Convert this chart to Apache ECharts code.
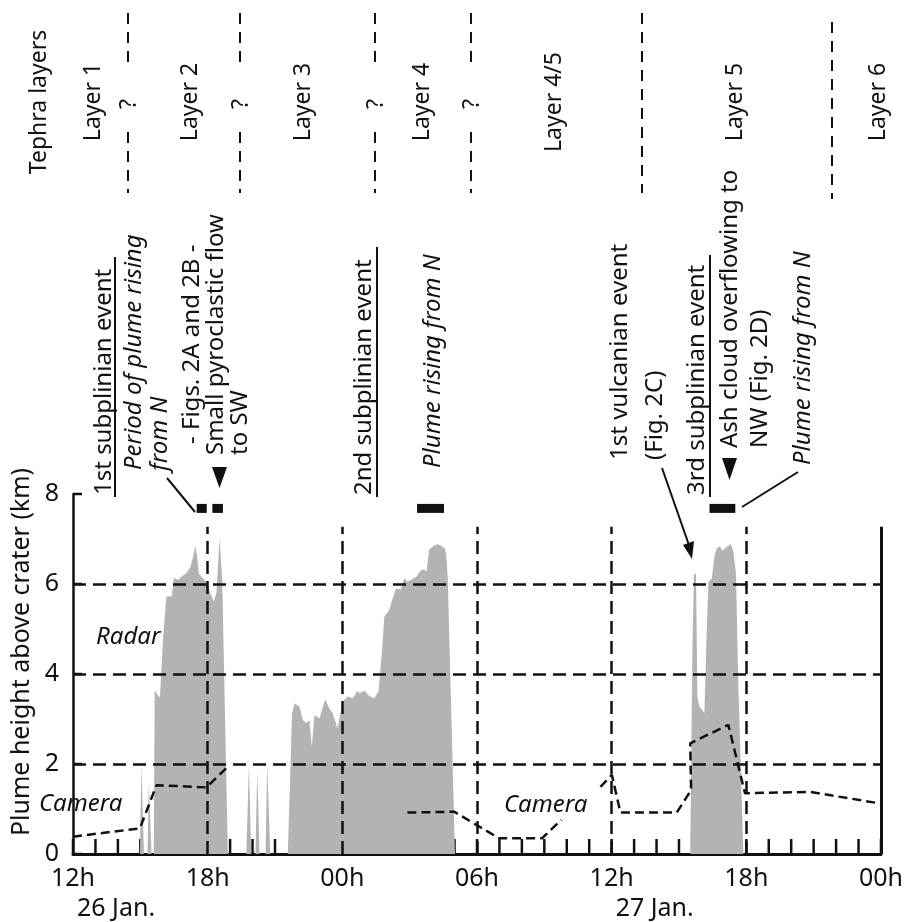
<!DOCTYPE html>
<html>
<head>
<meta charset="utf-8">
<script src="https://cdn.jsdelivr.net/npm/echarts@6/dist/echarts.min.js"></script>
<style>
  html, body { margin: 0; padding: 0; background: #fff; }
  #chart { width: 906px; height: 922px; }
</style>
</head>
<body>
<div id="chart"></div>
<script>
// Time axis: hours elapsed since 12:00 on 26 Jan.
const tickHours = [0, 6, 12, 18, 24, 30, 36];
const tickLabels = ['12h', '18h', '00h', '06h', '12h', '18h', '00h'];
const dateHours = [0, 24];
const dateLabels = ['26 Jan.', '27 Jan.'];
const heightTicks = [0, 2, 4, 6, 8];

// Radar plume height above crater (km)
const radarHours = [
  2.98, 3.05, 3.16, 3.32, 3.38, 3.5, 3.6, 3.64, 3.72, 3.87, 4.01, 4.16, 4.41, 4.49, 4.68,
  4.83, 5.05, 5.23, 5.35, 5.45, 5.53, 5.61, 5.79, 5.97, 6.12, 6.27, 6.39, 6.53, 6.65, 6.71, 6.9,
  7.72, 7.84, 7.94, 8.13, 8.21, 8.31, 8.58, 8.65, 8.79,
  9.57, 9.76, 9.87, 10.09, 10.24, 10.39, 10.53, 10.64, 10.76, 10.98, 11.24, 11.42, 11.57,
  11.79, 12.01, 12.24, 12.46, 12.68, 12.76, 12.98, 13.2, 13.42, 13.61, 13.76, 13.87, 14.09,
  14.24, 14.39, 14.6, 14.76, 14.9, 15.05, 15.3, 15.49, 15.64, 15.75, 15.87, 16.01, 16.24,
  16.43, 16.58, 16.65, 16.7, 17.02,
  27.5, 27.6, 27.67, 27.76, 27.82, 27.91, 28.04, 28.13, 28.24, 28.31, 28.46, 28.58, 28.68,
  28.83, 28.93, 29.13, 29.32, 29.42, 29.54, 29.64, 29.87
];
const radarKm = [
  0, 1.98, 0, 0, 1.61, 0, 0, 3.64, 3.57, 3.47, 4.76, 5.72, 5.73, 6.14, 6.09,
  6.16, 6.24, 6.37, 6.61, 6.84, 6.61, 6.22, 6.13, 6.02, 5.8, 5.61, 5.8, 7.01, 6.09, 4.6, 0,
  0, 1.98, 0, 0, 1.87, 0, 0, 2.01, 0,
  0, 3.13, 3.35, 3.27, 2.98, 2.91, 2.98, 2.38, 3.09, 3.01, 3.44, 3.24, 3.13,
  2.79, 3.38, 3.5, 3.46, 3.63, 3.57, 3.63, 3.51, 3.46, 3.61, 4.46, 5.27, 5.42,
  5.68, 5.9, 5.88, 6.13, 6.05, 6.09, 6.16, 6.3, 6.33, 6.27, 6.76, 6.83, 6.89,
  6.84, 6.79, 6.53, 6.09, 0,
  0, 4.6, 6.25, 6.2, 3.5, 3.27, 3.2, 3.13, 4.98, 6.05, 6.12, 6.61, 6.79,
  6.84, 6.74, 6.83, 6.89, 6.72, 6.24, 3.87, 0
];

// Camera plume height (km); null marks a break in the record
const cameraHours = [0, 2.98, 3.72, 5.94, 6.9, 10, 14.9, 16.98, 18.98, 20.9, 21.76, 22.6,
  23.5, 24.01, 24.39, 26.9, 27.54, 27.5, 29.2, 29.94, 32.83, 36];
const cameraKm = [0.385, 0.57, 1.53, 1.48, 1.94, null, 0.92, 0.94, 0.35, 0.35, 0.76, null,
  1.49, 1.76, 0.92, 0.92, 1.42, 2.46, 2.87, 1.35, 1.38, 1.12];

// Periods of plume rising from N / pyroclastic flow (bars above the plot)
const eventStart = [5.51, 6.21, 15.33, 28.36];
const eventEnd = [5.96, 6.68, 16.53, 29.51];
const eventLevel = 7.68;

// Reference lines
const heightLines = [2, 4, 6];
const hourLines = [6, 12, 18, 24, 30];
const frameHour = 36;
const lineTop = 7.27;

const INK = '#111';
const FONT = 'Noto Sans';

const chart = echarts.init(document.getElementById('chart'), null, { renderer: 'canvas' });

const radarData = radarHours.map((t, i) => [t, radarKm[i]]);
const cameraData = cameraHours.map((t, i) => [t, cameraKm[i] === null ? '-' : cameraKm[i]]);
const eventData = eventStart.map((s, i) => [s, eventEnd[i], eventLevel]);

// one tick per hour along the time axis
const hourTicks = [];
for (let h = 0; h <= 36; h++) hourTicks.push(h);

function hourLabel(v) {
  const i = tickHours.indexOf(v);
  return i >= 0 ? tickLabels[i] : '';
}

// Rotated (bottom-to-top) text
function vtext(text, x, y, size, opts) {
  opts = opts || {};
  return {
    type: 'text', x: x, y: y, rotation: Math.PI / 2, silent: true,
    style: {
      text: text, fontFamily: FONT, fontSize: size,
      fontStyle: opts.italic ? 'italic' : 'normal',
      fill: INK, align: opts.align || 'left', verticalAlign: 'middle'
    }
  };
}
function htext(text, x, y, size, opts) {
  opts = opts || {};
  return {
    type: 'text', x: x, y: y, silent: true,
    style: {
      text: text, fontFamily: FONT, fontSize: size,
      fontStyle: opts.italic ? 'italic' : 'normal',
      fill: INK, align: opts.align || 'left', verticalAlign: 'middle'
    }
  };
}
function seg(x1, y1, x2, y2, width, dash) {
  return {
    type: 'line', silent: true,
    shape: { x1: x1, y1: y1, x2: x2, y2: y2 },
    style: { stroke: INK, lineWidth: width, lineDash: dash || null }
  };
}
function tri(points) {
  return { type: 'polygon', silent: true, shape: { points: points }, style: { fill: INK } };
}

const graphics = [];

// Tephra layer header
graphics.push(vtext('Tephra layers', 39, 102, 23, { align: 'center' }));
[['Layer 1', 93], ['Layer 2', 190], ['Layer 3', 303], ['Layer 4', 422],
 ['Layer 4/5', 554], ['Layer 5', 735], ['Layer 6', 878]].forEach(function (l) {
  graphics.push(vtext(l[0], l[1], 102, 23, { align: 'center' }));
});
// Uncertain boundaries (with question mark) and firm boundaries
[128, 240, 375, 471].forEach(function (x) {
  graphics.push(seg(x, 13, x, 64, 2, [11, 8]));
  graphics.push(vtext('?', x + 1, 104, 23, { align: 'center' }));
  graphics.push(seg(x, 132, x, 193, 2, [11, 8]));
});
graphics.push(seg(642, 13, 642, 193, 2, [11, 8]));
graphics.push(seg(832, 22, 832, 199, 2, [11, 8]));

// Event annotations
graphics.push(vtext('1st subplinian event', 104, 495, 24));
graphics.push(seg(115, 257, 115, 497, 2));
graphics.push(vtext('Period of plume rising', 134, 470, 24, { italic: true }));
graphics.push(vtext('from N', 160, 471, 24, { italic: true }));
graphics.push(seg(167, 478, 195, 512, 2));
graphics.push(vtext('- Figs. 2A and 2B -', 192, 444, 24));
graphics.push(vtext('Small pyroclastic flow', 216, 455, 24));
graphics.push(vtext('to SW', 240, 455, 24));
graphics.push(tri([[212, 467], [227, 467], [219.5, 488]]));

graphics.push(vtext('2nd subplinian event', 364, 495, 24));
graphics.push(seg(377, 247, 377, 497, 2));
graphics.push(vtext('Plume rising from N', 433, 468, 24, { italic: true }));

graphics.push(vtext('1st vulcanian event', 620, 460, 24));
graphics.push(vtext('(Fig. 2C)', 655, 460, 24));
graphics.push(seg(662, 468, 690, 548, 2));
graphics.push(tri([[683, 545], [694, 541], [692, 559]]));

graphics.push(vtext('3rd subplinian event', 697, 495, 24));
graphics.push(seg(710, 255, 710, 497, 2));
graphics.push(tri([[722, 458], [737, 458], [729.5, 480]]));
graphics.push(vtext('Ash cloud overflowing to', 730, 448, 24));
graphics.push(vtext('NW (Fig. 2D)', 760, 448, 24));
graphics.push(vtext('Plume rising from N', 803, 465, 24, { italic: true }));
graphics.push(seg(798, 472, 742, 507, 2));

// Series labels and axis title
graphics.push(htext('Radar', 96, 637, 24, { italic: true }));
graphics.push(htext('Camera', 39, 804, 24, { italic: true }));
graphics.push(htext('Camera', 504, 805, 24, { italic: true }));
graphics.push(vtext('Plume height above crater (km)', 22, 652, 25, { align: 'center' }));

const option = {
  animation: false,
  backgroundColor: '#fff',
  grid: { left: 73, right: 23, top: 494, bottom: 68, containLabel: false },
  xAxis: {
    type: 'value', min: 0, max: 36, interval: 1,
    axisLine: { show: true, lineStyle: { color: INK, width: 3 } },
    axisTick: { show: false },
    axisLabel: {
      show: true, margin: 12, color: INK, fontFamily: FONT, fontSize: 25,
      formatter: hourLabel
    },
    splitLine: { show: false }
  },
  yAxis: {
    type: 'value', min: 0, max: 8, interval: 2,
    axisLine: { show: true, lineStyle: { color: INK, width: 2.5 } },
    axisTick: { show: false },
    axisLabel: { show: true, margin: 14, color: INK, fontFamily: FONT, fontSize: 25 },
    splitLine: { show: false }
  },
  graphic: graphics,
  series: [
    {
      name: 'Radar', type: 'line', data: radarData, z: 1,
      symbol: 'none', smooth: false,
      lineStyle: { width: 0, opacity: 0 },
      areaStyle: { color: '#b3b3b3', opacity: 1 },
      itemStyle: { color: '#b3b3b3' }
    },
    {
      name: 'grid', type: 'line', data: [], z: 3, silent: true,
      markLine: {
        silent: true, symbol: 'none', label: { show: false },
        lineStyle: { color: INK, width: 2.5, type: [13, 7] },
        data: heightLines.map(function (v) { return { yAxis: v }; })
          .concat(hourLines.map(function (t) { return [{ coord: [t, 0] }, { coord: [t, lineTop] }]; }))
          .concat([[{ coord: [frameHour, 0], lineStyle: { type: 'solid', width: 3, color: INK } },
                    { coord: [frameHour, lineTop] }]])
      }
    },
    {
      name: 'Camera', type: 'line', data: cameraData, z: 4,
      symbol: 'none', connectNulls: false,
      lineStyle: { color: INK, width: 2.5, type: [9, 5] }
    },
    {
      name: 'Events', type: 'custom', z: 5, clip: false,
      data: eventData,
      encode: { x: [0, 1], y: 2 },
      renderItem: function (params, api) {
        const a = api.coord([api.value(0), api.value(2)]);
        const b = api.coord([api.value(1), api.value(2)]);
        return {
          type: 'rect',
          shape: { x: a[0], y: a[1] - 4.5, width: b[0] - a[0], height: 9 },
          style: { fill: INK }
        };
      }
    }
  ]
};
chart.setOption(option);

// Inward tick marks, placed through the axes' own scales
const tickGraphics = [];
hourTicks.forEach(function (h) {
  const p = chart.convertToPixel({ gridIndex: 0 }, [h, 0]);
  tickGraphics.push(seg(p[0], p[1], p[0], p[1] - 15, 2.5));
});
heightTicks.forEach(function (v) {
  const p = chart.convertToPixel({ gridIndex: 0 }, [0, v]);
  tickGraphics.push(seg(p[0], p[1], p[0] + 9, p[1], 2.5));
});

// Date labels beneath the midnight/noon ticks
const dateGraphics = dateHours.map(function (h, i) {
  const p = chart.convertToPixel({ gridIndex: 0 }, [h, 0]);
  return htext(dateLabels[i], p[0] + 4, 909, 25);
});
chart.setOption({ graphic: graphics.concat(tickGraphics, dateGraphics) });
</script>
</body>
</html>
